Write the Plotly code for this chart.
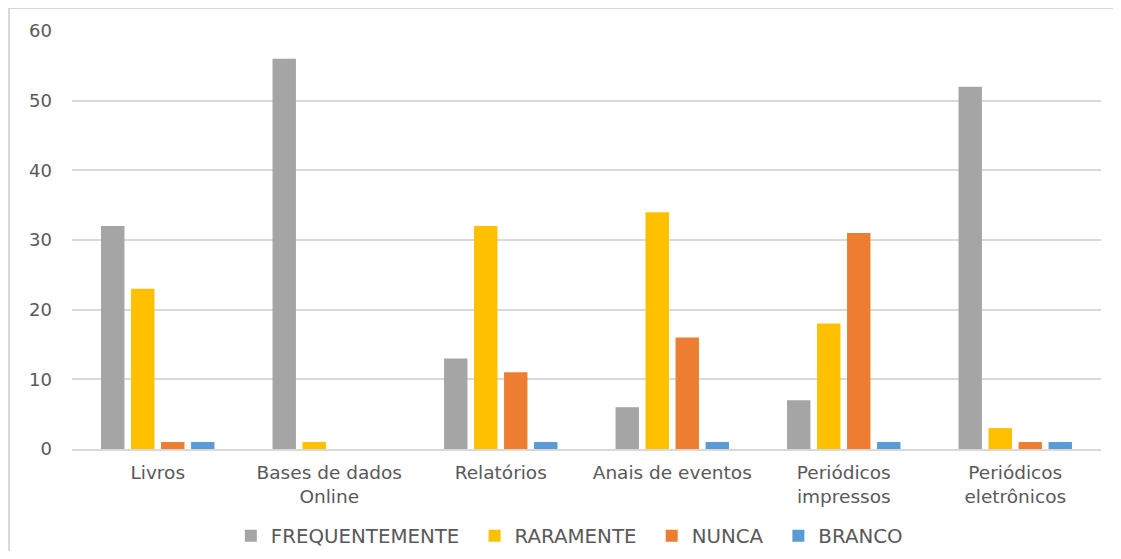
import plotly.graph_objects as go

categories = ["Livros", "Bases de dados<br>Online", "Relatórios", "Anais de eventos",
              "Periódicos<br>impressos", "Periódicos<br>eletrônicos"]
series_names = ["FREQUENTEMENTE", "RARAMENTE", "NUNCA", "BRANCO"]
frequentemente = [32, 56, 13, 6, 7, 52]
raramente = [23, 1, 32, 34, 18, 3]
nunca = [1, 0, 11, 16, 31, 1]
branco = [1, 0, 1, 1, 1, 1]
colors = ["#A5A5A5", "#FFC000", "#ED7D31", "#5B9BD5"]
y_ticks = [0, 10, 20, 30, 40, 50, 60]

fig = go.Figure()
n = len(series_names)
for i, (name, vals, col) in enumerate(zip(series_names, [frequentemente, raramente, nunca, branco], colors)):
    label = name + ("\u00a0\u2009" if i < n - 1 else "")
    fig.add_trace(go.Bar(x=categories, y=vals, name=label, marker=dict(color=col, line=dict(width=0))))

W, H = 1105, 543
L, T, R, B = 64, 23, 12, 102
pw, ph = W - L - R, H - T - B
font_family = "DejaVu Sans, sans-serif"
fig.update_layout(
    width=W, height=H,
    margin=dict(l=L, r=R, t=T, b=B, autoexpand=False),
    paper_bgcolor="white", plot_bgcolor="white",
    barmode="group", bargap=0.30, bargroupgap=0.22,
    font=dict(family=font_family, size=18, color="#595959"),
    showlegend=True,
    legend=dict(orientation="h", xref="container", yref="container",
                x=0.508, xanchor="center", y=0.028, yanchor="middle",
                font=dict(size=19.8, color="#595959"), itemwidth=30, traceorder="normal"),
    xaxis=dict(showgrid=False, showline=True, linecolor="#D9D9D9", linewidth=1.5,
               ticks="", tickfont=dict(size=18.5, color="#595959"), ticklabelstandoff=6),
    yaxis=dict(range=[0, 60], tickvals=y_ticks, showgrid=True, gridcolor="#D9D9D9",
               gridwidth=1.5, zeroline=False, showline=False, ticks="",
               tickfont=dict(size=18, color="#595959"), ticklabelstandoff=19),
    shapes=[dict(type="rect", xref="paper", yref="paper",
                 x0=(1 - L) / pw, x1=1.2, y0=-0.5, y1=1 + T / ph,
                 line=dict(color="#D9D9D9", width=2), fillcolor="rgba(0,0,0,0)", layer="below")],
)
fig.write_html("out.html")
